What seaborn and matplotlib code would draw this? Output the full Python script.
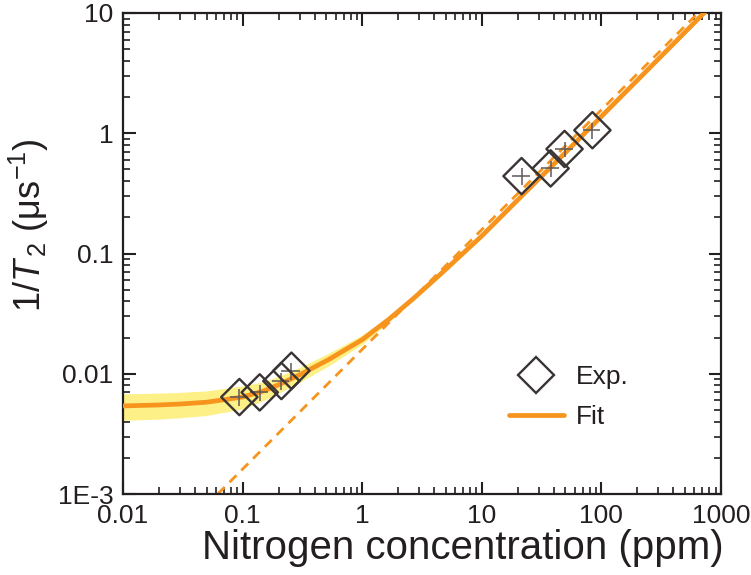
import matplotlib
matplotlib.use("Agg")
import matplotlib.pyplot as plt
import seaborn as sns
import numpy as np
from matplotlib.lines import Line2D
from matplotlib.ticker import FixedLocator, FixedFormatter, LogLocator, NullFormatter

# ---- data ----
exp_x = [0.094, 0.139, 0.211, 0.256, 21.5, 37.6, 49.2, 84.1]
exp_y = [0.0064, 0.0070, 0.0087, 0.0106, 0.44, 0.51, 0.74, 1.06]
exp_xerr = [0.016, 0.024, 0.035, 0.045, 3.6, 6.3, 8.3, 14.0]
exp_yerr = [0.0010, 0.0011, 0.0014, 0.0017, 0.07, 0.08, 0.11, 0.16]

fit_x = [0.01, 0.02, 0.03, 0.05, 0.1, 0.15, 0.2, 0.3, 0.53, 1.0, 1.68, 2.7, 4.64, 10, 21.5, 50, 100, 300, 721, 1000]
fit_y = [0.0054, 0.0055, 0.0056, 0.0058, 0.0064, 0.0072, 0.0081, 0.0098, 0.0132, 0.0192, 0.0285, 0.0425, 0.0690, 0.140, 0.300, 0.69, 1.38, 4.15, 10.0, 13.8]
band_lo = [0.0041, 0.0042, 0.0043, 0.0045, 0.0051, 0.0060, 0.0069, 0.0085, 0.0117, 0.0176, 0.0270, 0.0413, 0.0680, 0.139, 0.299, 0.69, 1.38, 4.15, 10.0, 13.8]
band_hi = [0.0068, 0.0069, 0.0070, 0.0072, 0.0079, 0.0086, 0.0095, 0.0113, 0.0149, 0.0210, 0.0302, 0.0440, 0.0700, 0.141, 0.301, 0.69, 1.38, 4.15, 10.0, 13.8]

dash_x = [0.062, 643]
dash_y = [0.001, 10]

x_ticks = [0.01, 0.1, 1, 10, 100, 1000]
x_labels = ["0.01", "0.1", "1", "10", "100", "1000"]
y_ticks = [0.001, 0.01, 0.1, 1, 10]
y_labels = ["1E-3", "0.01", "0.1", "1", "10"]

ORANGE = "#F7941D"
YELLOW = "#FCF086"
DARK = "#3A3434"
INK = "#231f20"

sns.set_theme(style="ticks")
plt.rcParams["font.family"] = ["Liberation Sans", "DejaVu Sans"]
plt.rcParams["mathtext.fontset"] = "custom"
plt.rcParams["mathtext.rm"] = "Liberation Sans"
plt.rcParams["mathtext.it"] = "Liberation Sans:italic"

fig = plt.figure(figsize=(7.51, 5.75), dpi=100)
ax = fig.add_axes([123 / 751, 1 - 494 / 575, 598 / 751, 481 / 575])
ax.set_xscale("log")
ax.set_yscale("log")

ax.fill_between(fit_x, band_lo, band_hi, color=YELLOW, lw=0, zorder=1)
sns.lineplot(x=dash_x, y=dash_y, ax=ax, color=ORANGE, lw=2.0, zorder=2,
             estimator=None, sort=False)
ax.lines[-1].set_dashes([3.5, 2.5])
sns.lineplot(x=fit_x, y=fit_y, ax=ax, color=ORANGE, lw=3.4, zorder=3,
             estimator=None, sort=False)

ax.errorbar(exp_x, exp_y, xerr=exp_xerr, yerr=exp_yerr, fmt="none",
            ecolor="#5f5858", elinewidth=1.1, capsize=0, zorder=4)
sns.scatterplot(x=exp_x, y=exp_y, ax=ax, marker="D", s=18.5 ** 2,
                facecolor="none", edgecolor=DARK, linewidth=1.7, zorder=5)

ax.set_xlim(0.01, 1000)
ax.set_ylim(0.001, 10)

ax.xaxis.set_major_locator(FixedLocator(x_ticks))
ax.xaxis.set_major_formatter(FixedFormatter(x_labels))
ax.yaxis.set_major_locator(FixedLocator(y_ticks))
ax.yaxis.set_major_formatter(FixedFormatter(y_labels))
ax.xaxis.set_minor_locator(LogLocator(base=10, subs=np.arange(2, 10), numticks=20))
ax.yaxis.set_minor_locator(LogLocator(base=10, subs=np.arange(2, 10), numticks=20))
ax.xaxis.set_minor_formatter(NullFormatter())
ax.yaxis.set_minor_formatter(NullFormatter())

ax.tick_params(which="both", direction="in", top=True, right=True, color=INK)
ax.tick_params(which="major", length=9, width=1.5, labelsize=19, pad=7, labelcolor=INK)
ax.tick_params(which="minor", length=5, width=1.2)
for s in ax.spines.values():
    s.set_linewidth(1.6)
    s.set_color(INK)

ax.set_xlabel("Nitrogen concentration (ppm)", fontsize=29, color=INK)
ax.xaxis.set_label_coords(0.569, -0.113, transform=ax.transAxes)
ax.xaxis.label.set_va("center")
ax.set_ylabel(r"1/$\mathit{T}_{\,2}$ (μs$^{\mathrm{-1}}$)", fontsize=26, color=INK)
ax.yaxis.set_label_coords(-0.158, 0.56, transform=ax.transAxes)
ax.yaxis.label.set_va("center")

handles = [
    Line2D([], [], ls="none", marker="D", markersize=18, markerfacecolor="none",
           markeredgecolor=DARK, markeredgewidth=1.7, label="Exp."),
    Line2D([], [], color=ORANGE, lw=3.4, label="Fit"),
]
ax.legend(handles=handles, loc="upper left", bbox_to_anchor=(0.605, 0.317),
          frameon=False, fontsize=19, handlelength=2.1, handletextpad=0.45,
          labelspacing=0.6, labelcolor=INK)

fig.savefig("out.png", dpi=100)
